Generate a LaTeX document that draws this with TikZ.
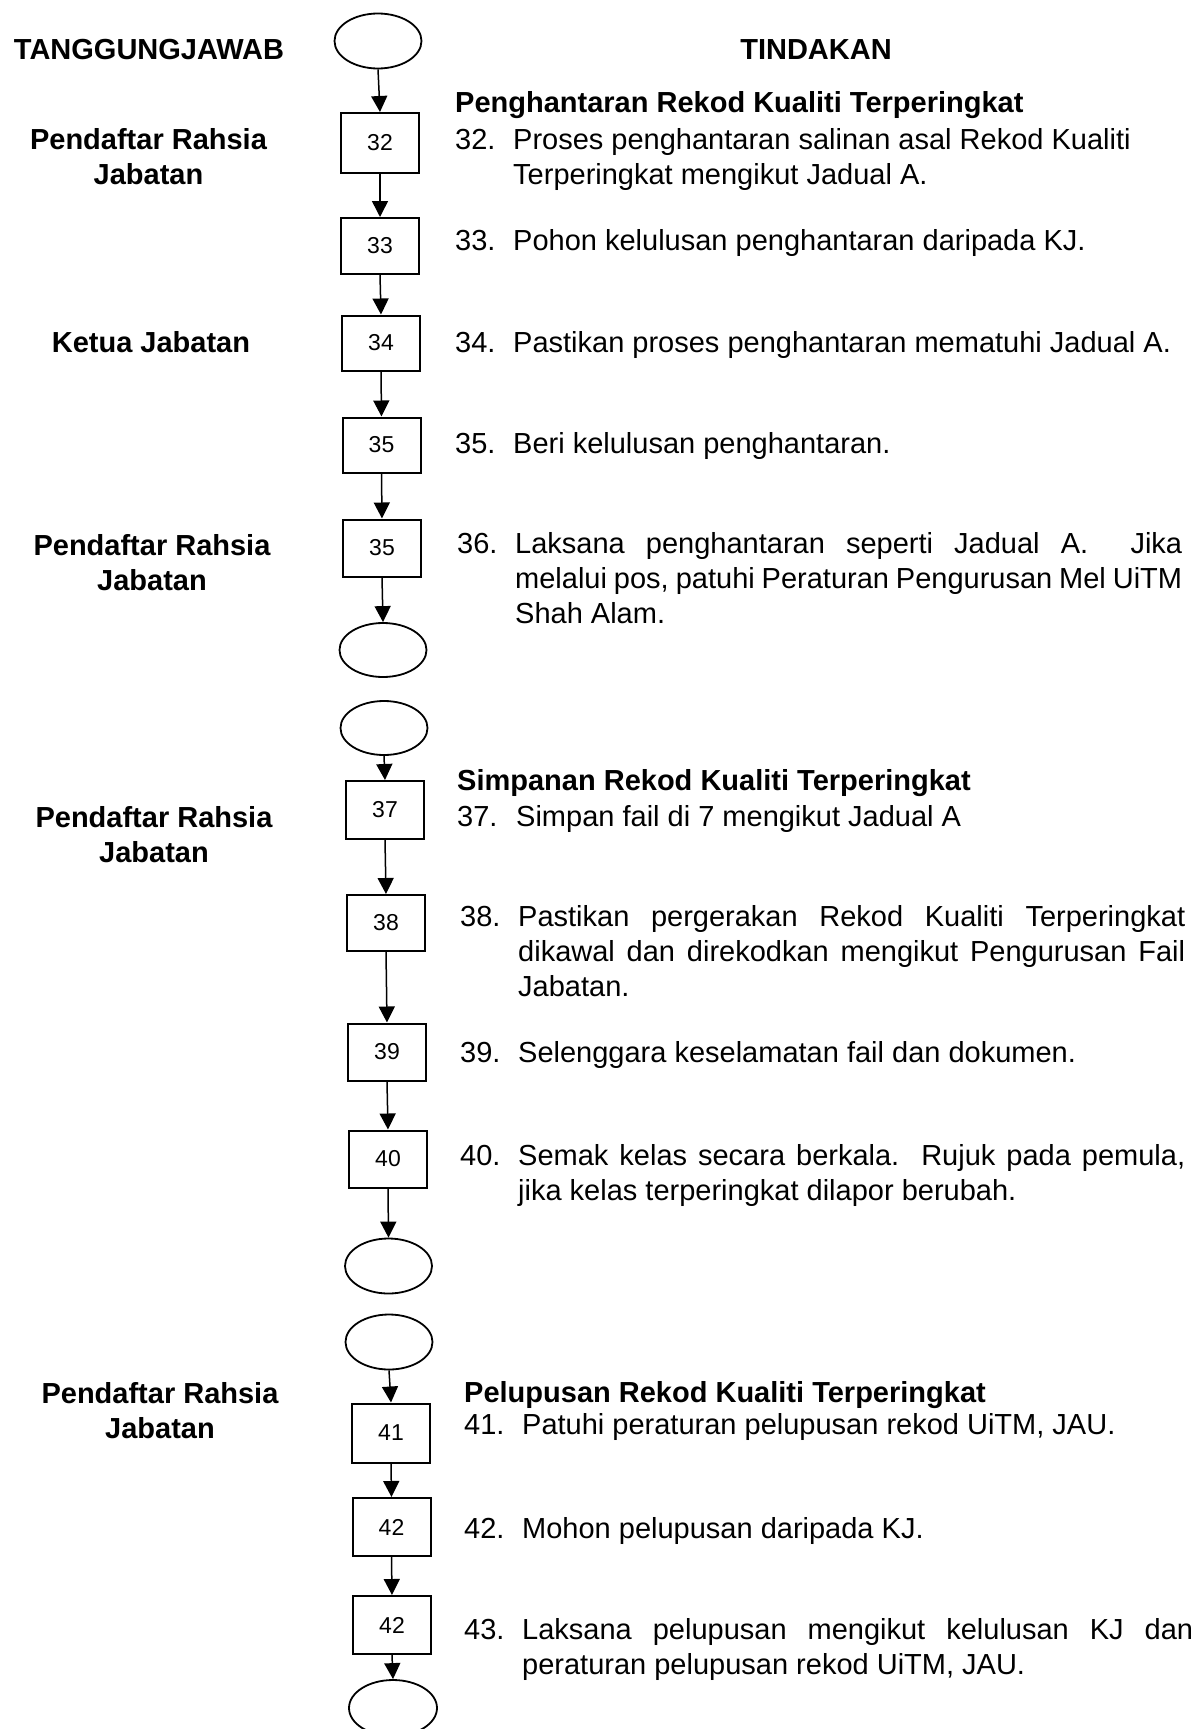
\documentclass[tikz,border=0pt]{standalone}
\usepackage{fontspec}
\setmainfont{Liberation Sans}
\usetikzlibrary{arrows.meta,shapes.geometric}
\newcommand{\bodysz}{\fontsize{29}{35}\selectfont}
\newcommand{\numw}[2]{\makebox[#1][l]{#2}}
\begin{document}
\begin{tikzpicture}[x=1pt,y=-1pt,
  box/.style={draw, line width=2pt, minimum width=78pt, minimum height=56pt, inner sep=0pt, font=\fontsize{23}{27}\selectfont},
  term/.style={draw, ellipse, line width=1.8pt, minimum width=87pt, minimum height=55pt, inner sep=0pt},
  arr/.style={-{Triangle[width=16pt,length=16pt]}, line width=1.5pt},
  txt/.style={anchor=base west, inner sep=0pt, font=\bodysz},
  head/.style={anchor=base west, inner sep=0pt, font=\bfseries\bodysz},
  who/.style={anchor=base, inner sep=0pt, font=\bfseries\bodysz}]
\useasboundingbox (0,0) rectangle (1195,1729);

% column titles
\node[who] (tj) at (149,59) {TANGGUNGJAWAB};
\node[who] (td) at (816,59) {TINDAKAN};

% responsibility labels
\node[who] (l1) at (148.5,149) {\parbox[t]{320pt}{\centering Pendaftar Rahsia\\Jabatan}};
\node[who] (l2) at (151,352) {Ketua Jabatan};
\node[who] (l3) at (152,555) {\parbox[t]{320pt}{\centering Pendaftar Rahsia\\Jabatan}};
\node[who] (l4) at (154,827) {\parbox[t]{320pt}{\centering Pendaftar Rahsia\\Jabatan}};
\node[who] (l5) at (160,1403) {\parbox[t]{320pt}{\centering Pendaftar Rahsia\\Jabatan}};

% flow column
\node[term] (e1) at (378,41) {};
\node[box, minimum height=60pt] (b32) at (380,143) {32};
\node[box] (b33) at (380,246) {33};
\node[box, minimum height=55pt] (b34) at (381,343) {34};
\node[box, minimum height=55pt] (b35a) at (381.5,445) {35};
\node[box, minimum height=57pt] (b35b) at (382,548) {35};
\node[term, minimum height=54pt] (e2) at (383,650) {};

\node[term, minimum height=54pt] (e3) at (384,728) {};
\node[box, minimum height=58pt] (b37) at (385,810) {37};
\node[box] (b38) at (386,923) {38};
\node[box, minimum height=57pt] (b39) at (387,1052) {39};
\node[box, minimum height=57pt] (b40) at (388,1159) {40};
\node[term] (e4) at (388.5,1266) {};

\node[term] (e5) at (389,1342) {};
\node[box, minimum height=59pt] (b41) at (391,1433) {41};
\node[box, minimum height=58pt] (b42a) at (391.5,1527) {42};
\node[box, minimum height=58pt] (b42b) at (392,1625) {42};
\node[term, minimum height=56pt, minimum width=88pt] (e6) at (393,1708) {};

\draw[arr] (e1.south) -- (b32.north);
\draw[arr] (b32.south) -- (b33.north);
\draw[arr] (b33.south) -- (b34.north);
\draw[arr] (b34.south) -- (b35a.north);
\draw[arr] (b35a.south) -- (b35b.north);
\draw[arr] (b35b.south) -- (e2.north);

\draw[arr] (e3.south) -- (b37.north);
\draw[arr] (b37.south) -- (b38.north);
\draw[arr] (b38.south) -- (b39.north);
\draw[arr] (b39.south) -- (b40.north);
\draw[arr] (b40.south) -- (e4.north);

\draw[arr] (e5.south) -- (b41.north);
\draw[arr] (b41.south) -- (b42a.north);
\draw[arr] (b42a.south) -- (b42b.north);
\draw[arr] (b42b.south) -- (e6.north);

% actions
\node[head] (h1) at (455,112.5) {Penghantaran Rekod Kualiti Terperingkat};
\node[txt] (t32) at (455,149) {\parbox[t]{760pt}{\numw{58pt}{32.}Proses penghantaran salinan asal Rekod Kualiti\\\hspace*{58pt}Terperingkat mengikut Jadual A.}};
\node[txt] (t33) at (455,250) {\numw{58pt}{33.}Pohon kelulusan penghantaran daripada KJ.};
\node[txt] (t34) at (455,352) {\numw{58pt}{34.}Pastikan proses penghantaran mematuhi Jadual A.};
\node[txt] (t35) at (455,453) {\numw{58pt}{35.}Beri kelulusan penghantaran.};
\node[txt] (t36) at (457,553) {\parbox[t]{760pt}{\numw{58pt}{36.}\makebox[667pt][s]{Laksana penghantaran seperti Jadual A.\ \ Jika}\\\hspace*{58pt}\makebox[667pt][s]{melalui pos, patuhi Peraturan Pengurusan Mel UiTM}\\\hspace*{58pt}Shah Alam.}};

\node[head] (h2) at (457,790) {Simpanan Rekod Kualiti Terperingkat};
\node[txt] (t37) at (457,826) {\numw{59pt}{37.}Simpan fail di 7 mengikut Jadual A};
\node[txt] (t38) at (460,926) {\parbox[t]{760pt}{\numw{58pt}{38.}\makebox[667pt][s]{Pastikan pergerakan Rekod Kualiti Terperingkat}\\\hspace*{58pt}\makebox[667pt][s]{dikawal dan direkodkan mengikut Pengurusan Fail}\\\hspace*{58pt}Jabatan.}};
\node[txt] (t39) at (460,1062) {\numw{58pt}{39.}Selenggara keselamatan fail dan dokumen.};
\node[txt] (t40) at (460,1165) {\parbox[t]{760pt}{\numw{58pt}{40.}\makebox[667pt][s]{Semak kelas secara berkala.\ \ Rujuk pada pemula,}\\\hspace*{58pt}jika kelas terperingkat dilapor berubah.}};

\node[head] (h3) at (464,1402) {Pelupusan Rekod Kualiti Terperingkat};
\node[txt] (t41) at (464,1434) {\numw{58pt}{41.}Patuhi peraturan pelupusan rekod UiTM, JAU.};
\node[txt] (t42) at (464,1538) {\numw{58pt}{42.}Mohon pelupusan daripada KJ.};
\node[txt] (t43) at (464,1639) {\parbox[t]{760pt}{\numw{58pt}{43.}\makebox[671pt][s]{Laksana pelupusan mengikut kelulusan KJ dan}\\\hspace*{58pt}peraturan pelupusan rekod UiTM, JAU.}};
\end{tikzpicture}
\end{document}
